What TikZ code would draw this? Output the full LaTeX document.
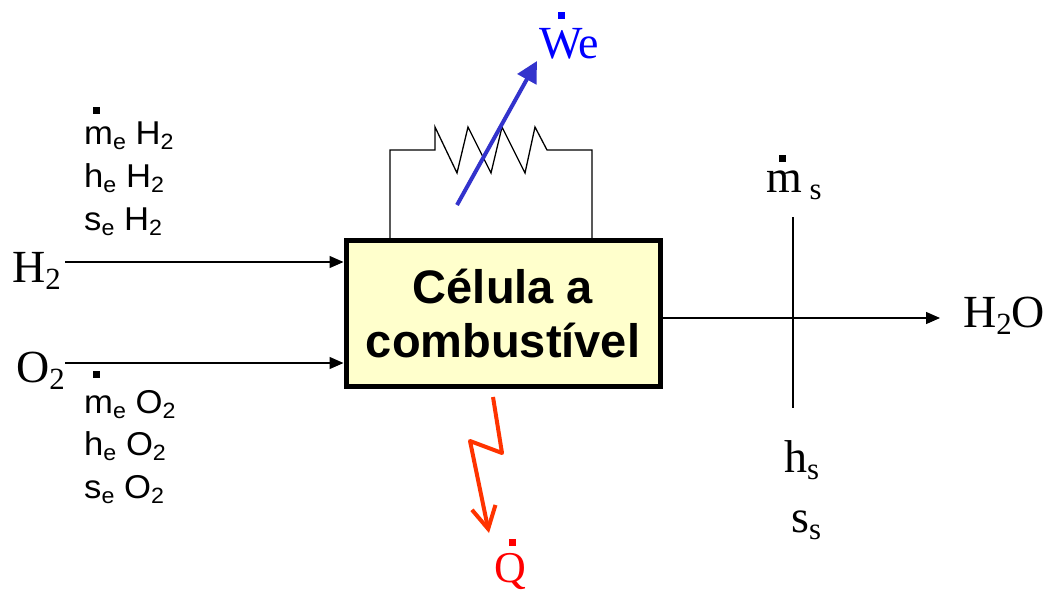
\documentclass[tikz,border=0pt]{standalone}
\usepackage{xcolor}
\usepackage{fontspec}
\setmainfont{Liberation Serif}
\setsansfont{Liberation Sans}[FakeStretch=1.05]
\newfontfamily\cellfont{Liberation Sans}
\usepackage{tikz}
\usetikzlibrary{arrows.meta,calc}

\definecolor{cellyellow}{HTML}{FFFFCC}
\definecolor{workblue}{HTML}{3333CC}
\definecolor{heatred}{HTML}{FF3300}

\newcommand{\lowtxt}[1]{\raisebox{-0.17em}{\scalebox{0.67}{#1}}}

\begin{document}
\begin{tikzpicture}[
    x=1pt, y=-1pt,
    flow/.style={line width=1.3pt, -{Triangle[length=14pt,width=12pt]}},
    wire/.style={line width=1.3pt, line join=miter},
    cell/.style={draw, line width=5pt, fill=cellyellow, minimum width=314pt, minimum height=146pt,
        inner sep=0pt, align=center, font=\cellfont\bfseries\fontsize{47}{54}\selectfont},
    gaslabel/.style={anchor=base west, inner sep=0pt, font=\fontsize{46}{46}\selectfont},
    proplabel/.style={anchor=base west, inner sep=0pt, font=\sffamily\fontsize{33}{33}\selectfont},
    dotmark/.style={fill, minimum size=7pt, inner sep=0pt}
]
\useasboundingbox (0,0) rectangle (1043,592);

% Fuel cell
\node[cell] (cell) at (503,313) {C\'elula a\\combust\'ivel};

% Inlets
\node[gaslabel] (h2) at (12,282) {H\lowtxt{2}};
\node[gaslabel] (o2) at (16,382) {O\lowtxt{2}};
\coordinate (h2in) at (65,262);
\coordinate (o2in) at (65,363);
\draw[flow] (h2in) -- (cell.west |- h2in);
\draw[flow] (o2in) -- (cell.west |- o2in);

% Outlet
\coordinate (h2oend) at (940,318);
\node[gaslabel] (h2o) at (963,327) {H\lowtxt{2}O};
\draw[flow] (cell.east |- h2oend) -- (h2oend);
\coordinate (stateup) at (793,217);
\coordinate (statedown) at (793,408);
\draw[wire] (stateup) -- (statedown);

% Resistor
\coordinate (resleft) at (390,238);
\coordinate (resright) at (592,238);
\draw[wire] (resleft) -- (390,150) -- (435,150) -- (435,127) -- (457,173) -- (468,127) -- (491,173)
    -- (502,127) -- (525,173) -- (535,127) -- (547,150) -- (592,150) -- (resright);

% Electric work
\coordinate (workstart) at (457,205);
\coordinate (workend) at (537,61);
\draw[workblue, line width=4pt, -{Triangle[length=21pt,width=21pt]}] (workstart) -- (workend);
\node[gaslabel, text=blue] (we) at (539,58) {We};
\node[dotmark, blue] (wedot) at (561,15) {};

% Heat
\coordinate (heatstart) at (493,397);
\coordinate (heatend) at (489,533);
\draw[heatred, line width=4pt, line join=round, -{Straight Barb[length=22pt,width=24pt]}] (heatstart) -- (502,453) -- (470,441) -- (heatend);
\node[gaslabel, text=red, font=\fontsize{44}{44}\selectfont] (qlabel) at (494,582) {Q};
\node[dotmark, red] (qdot) at (512,542) {};

% Inlet properties
\node[proplabel] (mh2) at (84,144) {m\lowtxt{e} H\lowtxt{2}};
\node[proplabel] (hh2) at (84,187) {h\lowtxt{e} H\lowtxt{2}};
\node[proplabel] (sh2) at (84,230) {s\lowtxt{e} H\lowtxt{2}};
\node[dotmark] (mh2dot) at (96.5,110) {};
\node[proplabel] (mo2) at (84,413) {m\lowtxt{e} O\lowtxt{2}};
\node[proplabel] (ho2) at (84,455) {h\lowtxt{e} O\lowtxt{2}};
\node[proplabel] (so2) at (84,498) {s\lowtxt{e} O\lowtxt{2}};
\node[dotmark] (mo2dot) at (96.5,374) {};

% Outlet properties
\node[gaslabel] (ms) at (766,192) {m\,\lowtxt{s}};
\node[dotmark] (msdot) at (782,158) {};
\node[gaslabel] (hs) at (784,472) {h\lowtxt{s}};
\node[gaslabel] (ss) at (791,532) {s\lowtxt{s}};
\end{tikzpicture}
\end{document}
